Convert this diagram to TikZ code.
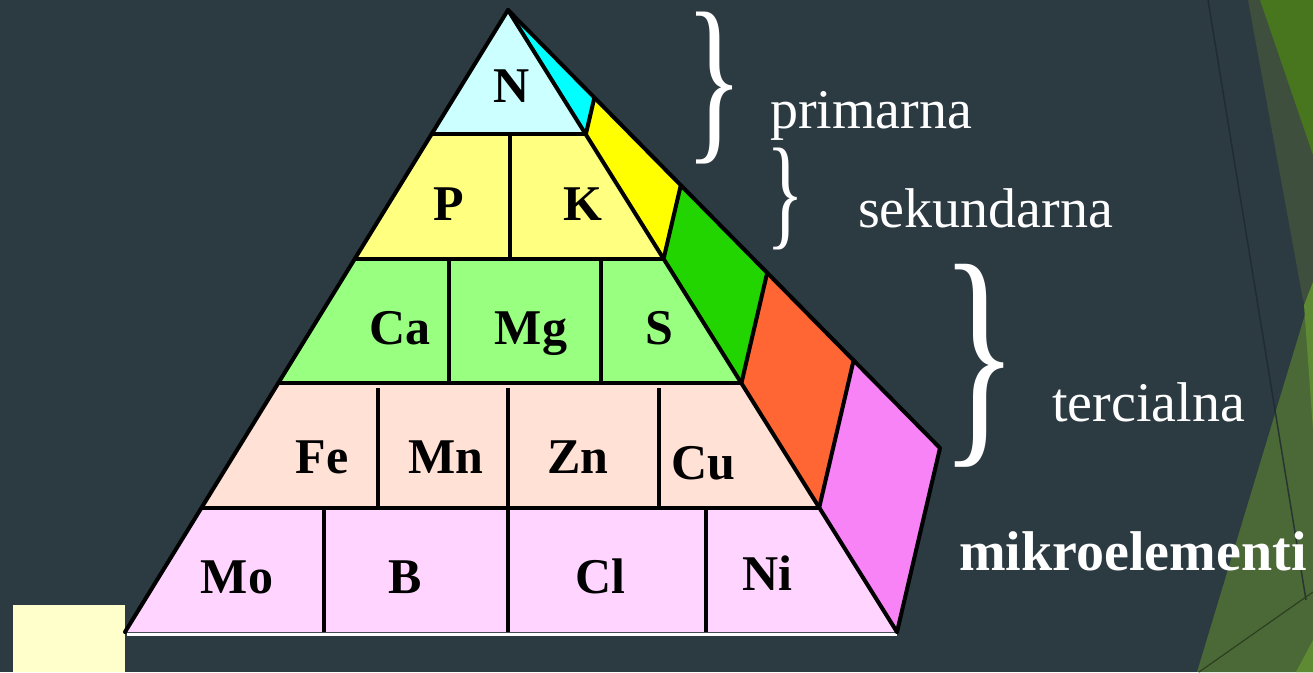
\documentclass[tikz,border=0pt]{standalone}
\usepackage{fontspec}
\usepackage{graphicx}
\setmainfont{Liberation Serif}
\usetikzlibrary{calc}
\definecolor{bg}{HTML}{2C3A42}
\definecolor{row1}{HTML}{CCFFFF}
\definecolor{row2}{HTML}{FFFF80}
\definecolor{row3}{HTML}{99FF80}
\definecolor{row4}{HTML}{FFE1D6}
\definecolor{row5}{HTML}{FFD5FF}
\definecolor{side1}{HTML}{00FFFF}
\definecolor{side2}{HTML}{FFFF00}
\definecolor{side3}{HTML}{22D400}
\definecolor{side4}{HTML}{FF6633}
\definecolor{side5}{HTML}{F783F7}
\definecolor{dimolive}{HTML}{3E4F3E}
\definecolor{brightgreen}{HTML}{47761F}
\definecolor{olive}{HTML}{4B6937}
\definecolor{lightgreen}{HTML}{5E8A33}
\definecolor{darkline}{HTML}{1E292F}
\definecolor{paleyellow}{HTML}{FFFFCC}
\begin{document}
\begin{tikzpicture}[x=1pt,y=-1pt,
  lbl/.style={font=\fontsize{50}{50}\selectfont\bfseries, anchor=base, inner sep=0pt, text=black},
  tag/.style={font=\fontsize{56}{56}\selectfont, anchor=base west, inner sep=0pt, text=white},
  bracenode/.style={inner sep=0pt, text=white, font=\fontsize{40}{40}\selectfont},
  edge/.style={line width=4pt, line join=round, line cap=round},
  divider/.style={line width=3.5pt}]
\useasboundingbox (0,0) rectangle (1313,672);
\fill[bg] (0,0) rectangle (1313,672);
% background facets
\fill[dimolive] (1248,0) -- (1313,0) -- (1313,320) -- (1303,300) -- cycle;
\fill[brightgreen] (1260,0) -- (1313,0) -- (1313,155) -- cycle;
\fill[olive] (1313,288) -- (1197,672) -- (1313,672) -- cycle;
\fill[lightgreen] (1313,282) -- (1304,305) -- (1313,430) -- cycle;
\fill[lightgreen] (1313,640) -- (1313,672) -- (1296,672) -- cycle;
\draw[darkline, line width=1.5pt, opacity=0.8] (1208,0) -- (1306,600);
\draw[black!40!olive, line width=1.2pt] (1199,672) -- (1313,592);
% pale yellow square
\fill[paleyellow] (13,605) rectangle (125,672);
% pyramid
\coordinate (A) at (508,10);
\coordinate (L) at (125,632);
\coordinate (R) at (897,632);
\coordinate (B) at (940,448);
\coordinate (L0) at (A); \coordinate (R0) at (A); \coordinate (B0) at (A);
\foreach \k in {1,...,5} {
  \coordinate (L\k) at ($(A)!\k/5!(L)$);
  \coordinate (R\k) at ($(A)!\k/5!(R)$);
  \coordinate (B\k) at ($(A)!\k/5!(B)$);
}
\foreach \k/\j in {1/0,2/1,3/2,4/3,5/4} {
  \fill[row\k] (L\j) -- (R\j) -- (R\k) -- (L\k) -- cycle;
  \fill[side\k] (R\j) -- (B\j) -- (B\k) -- (R\k) -- cycle;
}
\draw[white, line width=3pt] (127,634) -- (897,634);
\foreach \k in {1,...,4} {
  \draw[edge] (L\k) -- (R\k);
  \draw[edge] (R\k) -- (B\k);
}
\draw[edge] (L) -- (A) -- (B) -- (R);
\draw[edge] (A) -- (R);
% dividers
\draw[divider] (510,134.4) -- (510,258.8);
\draw[divider] (449,258.8) -- (449,383.2);
\draw[divider] (601,258.8) -- (601,383.2);
\draw[divider] (378,388) -- (378,507.6);
\draw[divider] (508,388) -- (508,507.6);
\draw[divider] (659,388) -- (659,507.6);
\draw[divider] (324,507.6) -- (324,632);
\draw[divider] (508,507.6) -- (508,632);
\draw[divider] (706,507.6) -- (706,632);
% element labels
\node[lbl] (N) at (512,102) {N};
\node[lbl] (P) at (449,220) {P};
\node[lbl] (K) at (583,220) {K};
\node[lbl] (Ca) at (400,344) {Ca};
\node[lbl] (Mg) at (531,344) {Mg};
\node[lbl] (S) at (659,344) {S};
\node[lbl] (Fe) at (322,473) {Fe};
\node[lbl] (Mn) at (446,473) {Mn};
\node[lbl] (Zn) at (578,473) {Zn};
\node[lbl] (Cu) at (703,479) {Cu};
\node[lbl] (Mo) at (237,593) {Mo};
\node[lbl] (Bo) at (405,593) {B};
\node[lbl] (Cl) at (600,593) {Cl};
\node[lbl] (Ni) at (767,590) {Ni};
% braces
\node[bracenode] (br1) at (714,88) {\resizebox*{58pt}{152pt}{\}}};
\node[bracenode] (br2) at (785,199) {\resizebox*{38pt}{102pt}{\}}};
\node[bracenode] (br3) at (979,366) {\resizebox*{78pt}{203pt}{\}}};
% level labels
\node[tag] (prim) at (770,128) {primarna};
\node[tag] (sek) at (858,227) {sekundarna};
\node[tag] (ter) at (1052,421) {tercialna};
\node[tag, font=\fontsize{56}{56}\selectfont\bfseries] (mikro) at (959,570) {mikroelementi};
\end{tikzpicture}
\end{document}
